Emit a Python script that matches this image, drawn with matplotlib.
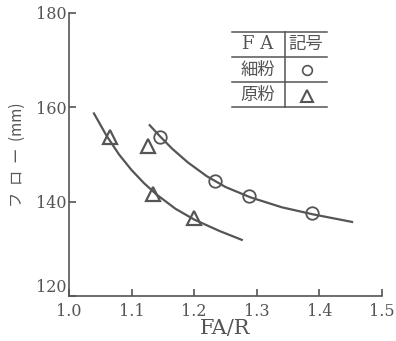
import matplotlib.pyplot as plt
from matplotlib.lines import Line2D

plt.rcParams['font.family'] = ['DejaVu Serif', 'Noto Sans CJK JP']

# measured points
fine_x = [1.145, 1.233, 1.288, 1.388]
fine_y = [153.8, 144.4, 141.2, 137.5]
raw_x = [1.065, 1.126, 1.135, 1.199]
raw_y = [153.7, 151.8, 141.6, 136.5]

# fitted curves
fine_curve_x = [1.129, 1.145, 1.165, 1.190, 1.220, 1.250, 1.290, 1.340, 1.390, 1.452]
fine_curve_y = [156.2, 153.9, 151.2, 148.3, 145.4, 143.1, 140.9, 138.8, 137.3, 135.7]
raw_curve_x = [1.040, 1.060, 1.080, 1.100, 1.120, 1.140, 1.170, 1.200, 1.240, 1.276]
raw_curve_y = [158.7, 154.0, 150.0, 146.7, 143.9, 141.5, 138.5, 136.2, 133.8, 131.9]

xticks = [1.0, 1.1, 1.2, 1.3, 1.4, 1.5]
yticks = [120, 140, 160, 180]

col = '#555555'

fig = plt.figure(figsize=(3.96, 3.41), dpi=100)
ax = fig.add_axes([0.174, 0.132, 0.791, 0.830])

ax.plot(fine_curve_x, fine_curve_y, '-', color=col, lw=1.6)
ax.plot(raw_curve_x, raw_curve_y, '-', color=col, lw=1.6)
ax.plot(fine_x, fine_y, 'o', ms=9, mfc='none', mec=col, mew=1.3)
ax.plot(raw_x, raw_y, '^', ms=10, mfc='none', mec=col, mew=1.6)

ax.set_xlim(1.0, 1.5)
ax.set_ylim(120, 180)
ax.set_xticks(xticks)
ax.set_xticklabels(['%.1f' % v for v in xticks])
ax.set_yticks(yticks)
for s in ['top', 'right']:
    ax.spines[s].set_visible(False)
for s in ['left', 'bottom']:
    ax.spines[s].set_color(col)
    ax.spines[s].set_linewidth(1.2)
ax.tick_params(direction='in', length=5, width=1.2, color=col,
               labelcolor=col, labelsize=11.5)
ax.tick_params(axis='x', pad=5)
ax.tick_params(axis='y', pad=2)
ax.get_yticklabels()[0].set_verticalalignment('bottom')

ax.set_xlabel('FA/R', fontsize=15, color=col, labelpad=-1)
fig.text(0.045, 0.545, 'フ  ロ  ー  (mm)', rotation=90, ha='center', va='center',
         fontsize=11, color=col, family=['Noto Sans CJK JP'])

# legend table
x0, xm, x1 = 0.521, 0.690, 0.824
ys = [0.933, 0.845, 0.756, 0.668]
for y in ys:
    ax.add_line(Line2D([x0, x1], [y, y], transform=ax.transAxes, color=col, lw=1.1))
ax.add_line(Line2D([xm, xm], [ys[0], ys[-1]], transform=ax.transAxes, color=col, lw=1.1))
rows = [0.889, 0.800, 0.711]
ax.text(0.604, rows[0], 'F A', transform=ax.transAxes, ha='center', va='center',
        fontsize=13, color=col)
ax.text(0.757, rows[0], '記号', transform=ax.transAxes, ha='center', va='center',
        fontsize=12.5, color=col, family=['Noto Sans CJK JP'])
ax.text(0.604, rows[1], '細粉', transform=ax.transAxes, ha='center', va='center',
        fontsize=12.5, color=col, family=['Noto Sans CJK JP'])
ax.text(0.604, rows[2], '原粉', transform=ax.transAxes, ha='center', va='center',
        fontsize=12.5, color=col, family=['Noto Sans CJK JP'])
ax.plot([0.760], [rows[1]], 'o', ms=7, mfc='none', mec=col, mew=1.2,
        transform=ax.transAxes, clip_on=False)
ax.plot([0.760], [rows[2] - 0.005], '^', ms=8, mfc='none', mec=col, mew=1.5,
        transform=ax.transAxes, clip_on=False)

fig.savefig('out.png', dpi=100)
